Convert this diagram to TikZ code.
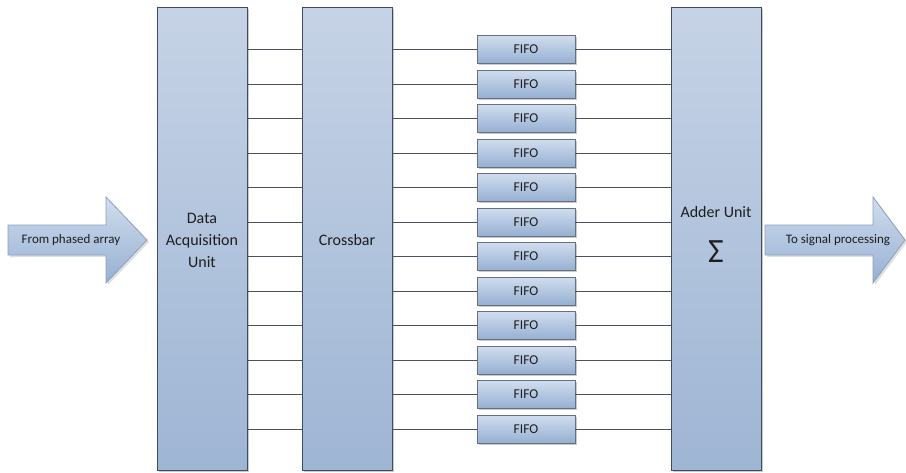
\documentclass[tikz,border=0pt]{standalone}
\usepackage{fontspec}
\setmainfont{Carlito}
\usetikzlibrary{shadows}
\definecolor{boxtop}{RGB}{198,211,230}
\definecolor{boxbot}{RGB}{158,181,212}
\definecolor{fifotop}{RGB}{208,221,238}
\definecolor{fifobot}{RGB}{150,176,210}
\definecolor{edge}{RGB}{62,76,96}
\definecolor{wire}{RGB}{72,82,92}
\definecolor{arrowedge}{RGB}{140,160,190}
\definecolor{txt}{RGB}{30,30,30}
\tikzset{
  block/.style={draw=edge, line width=0.9pt, top color=boxtop, bottom color=boxbot,
    minimum width=90pt, minimum height=463pt, inner sep=0pt, text=txt, align=center,
    drop shadow={shadow xshift=2pt, shadow yshift=-2pt, fill=black!35, opacity=0.6}},
  blocktext/.style={text=txt, align=center, inner sep=0pt, font=\fontsize{16}{22}\selectfont},
  fifobox/.style={draw=edge!80, line width=0.7pt, top color=fifotop, bottom color=fifobot,
    minimum width=98pt, minimum height=28pt, inner sep=0pt, text=txt,
    font=\fontsize{13.5}{15}\selectfont,
    drop shadow={shadow xshift=1.5pt, shadow yshift=-1.5pt, fill=black!35, opacity=0.6}},
  wireline/.style={draw=wire, line width=0.8pt},
  bigarrow/.style={draw=arrowedge, line width=0.8pt, top color=fifotop, bottom color=fifobot,
    drop shadow={shadow xshift=2pt, shadow yshift=-2pt, fill=black!25, opacity=0.5}},
  arrowtext/.style={text=txt, font=\fontsize{13}{15}\selectfont, inner sep=0pt},
}
\begin{document}
\begin{tikzpicture}[x=1pt,y=-1pt]
\useasboundingbox (0,0) rectangle (906,472);
% blocks
\node[block] (daq) at (202,238.5) {};
\node[block] (xbar) at (347,238.5) {};
\node[block] (adder) at (716,238.5) {};
\node[blocktext] (daqtext) at (202,240) {Data\\Acquisition\\Unit};
\node[blocktext] (xbartext) at (347,240) {Crossbar};
\node[blocktext] (addertext) at (716,212) {Adder Unit};
\node[text=txt, inner sep=0pt, font=\fontsize{34}{36}\selectfont] (sigma) at (716,252) {Σ};
% fifos and wires
\foreach \i in {0,...,11}{
  \pgfmathsetmacro{\yy}{49.5+34.5*\i}
  \node[fifobox] (f\i) at (526,\yy) {FIFO};
  \draw[wireline] (daq.east |- f\i.west) -- (xbar.west |- f\i.west);
  \draw[wireline] (xbar.east |- f\i.west) -- (f\i.west);
  \draw[wireline] (f\i.east) -- (adder.west |- f\i.east);
}
% arrows
\path[bigarrow] (8,225) -- (106,225) -- (106,197) -- (147,240) -- (106,283) -- (106,255) -- (8,255) -- cycle;
\node[arrowtext] (intext) at (71,240) {From phased array};
\path[bigarrow] (765,225) -- (873,225) -- (873,197) -- (905,240) -- (873,283) -- (873,255) -- (765,255) -- cycle;
\node[arrowtext] (outtext) at (838,240) {To signal processing};
\end{tikzpicture}
\end{document}
